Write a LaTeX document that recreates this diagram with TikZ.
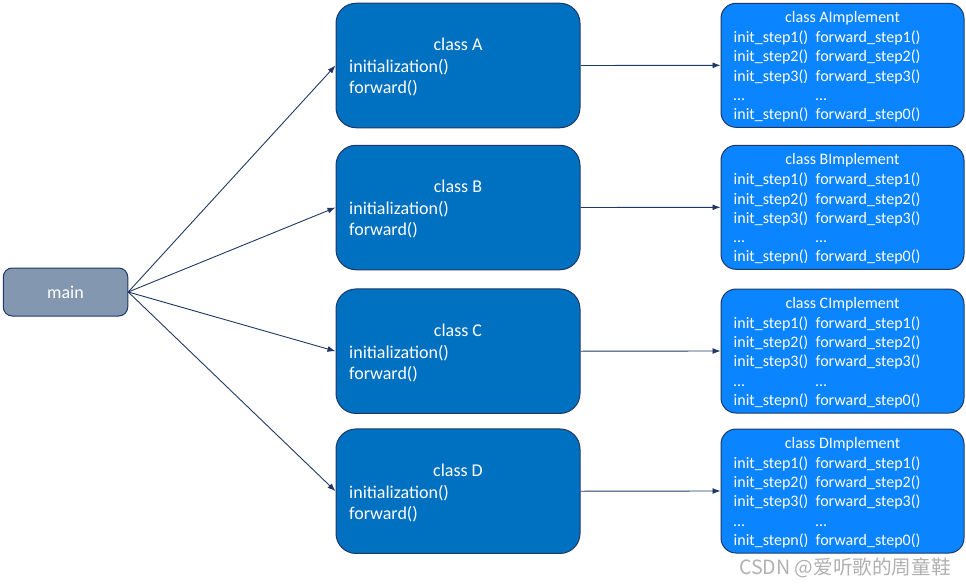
\documentclass[tikz,border=0pt]{standalone}
\usepackage{fontspec}
\setmainfont{Carlito}
\newfontfamily\cjkfont{Noto Sans CJK SC}
\usetikzlibrary{arrows.meta}
\definecolor{classfill}{HTML}{0070C0}
\definecolor{implfill}{HTML}{0A84FF}
\definecolor{mainfill}{HTML}{8497B0}
\definecolor{edgecol}{HTML}{203864}
\definecolor{wmcol}{HTML}{B0B0B0}
\begin{document}
\begin{tikzpicture}[x=1pt,y=-1pt,
  classbox/.style={draw=edgecol, line width=1pt, fill=classfill, rounded corners=20pt,
    minimum width=244pt, minimum height=124.5pt, inner sep=0pt},
  implbox/.style={draw=edgecol, line width=1pt, fill=implfill, rounded corners=15pt,
    minimum width=243pt, minimum height=124pt, inner sep=0pt},
  mainbox/.style={draw=edgecol, line width=1pt, fill=mainfill, rounded corners=9pt,
    minimum width=124.5pt, minimum height=48pt, inner sep=0pt},
  bigtxt/.style={text=white, font=\fontsize{18}{22}\selectfont, inner sep=0pt},
  smalltxt/.style={text=white, font=\fontsize{16}{19.5}\selectfont, inner sep=0pt},
  conn/.style={draw=edgecol, line width=0.9pt, -{Latex[length=8pt,width=6pt]}}
]
\useasboundingbox (0,0) rectangle (966,586);

% main
\node[mainbox] (main) at (65.5,292) {};
\node[bigtxt, anchor=base] (maintxt) at (65.5,298) {main};

\foreach \n/\t in {A/3.3, B/145.3, C/289, D/429}{
  % class box
  \node[classbox] (c\n) at (458,{\t+62.2}) {};
  \node[bigtxt, anchor=base] (c\n title) at (458,{\t+47.4}) {class \n};
  \node[bigtxt, anchor=base west] (c\n l1) at (349,{\t+69}) {initialization()};
  \node[bigtxt, anchor=base west] (c\n l2) at (349,{\t+90.6}) {forward()};
  % implement box
  \node[implbox] (i\n) at (842.5,{\t+62}) {};
  \node[smalltxt, anchor=base] (i\n title) at (842.5,{\t+19.4}) {class \n Implement};
  \foreach \lt/\rt [count=\k from 0] in {init\_step1()/forward\_step1(),
      init\_step2()/forward\_step2(), init\_step3()/forward\_step3(),
      \ldots/\ldots, init\_stepn()/forward\_step0()}{
    \node[smalltxt, anchor=base west] (i\n L\k) at (733.5,{\t+39.5+19.2*\k}) {\lt};
    \node[smalltxt, anchor=base west] (i\n R\k) at (815.5,{\t+39.5+19.2*\k}) {\rt};
  }
  % connectors
  \draw[conn] (main.east) -- (c\n.west);
  \draw[conn] (c\n.east) -- (i\n.west);
}

% watermark
\node[anchor=base west, inner sep=0pt, text=wmcol, font=\cjkfont\fontsize{19.6}{22}\selectfont] (wm) at (739,574) {CSDN @爱听歌的周童鞋};
\end{tikzpicture}
\end{document}
